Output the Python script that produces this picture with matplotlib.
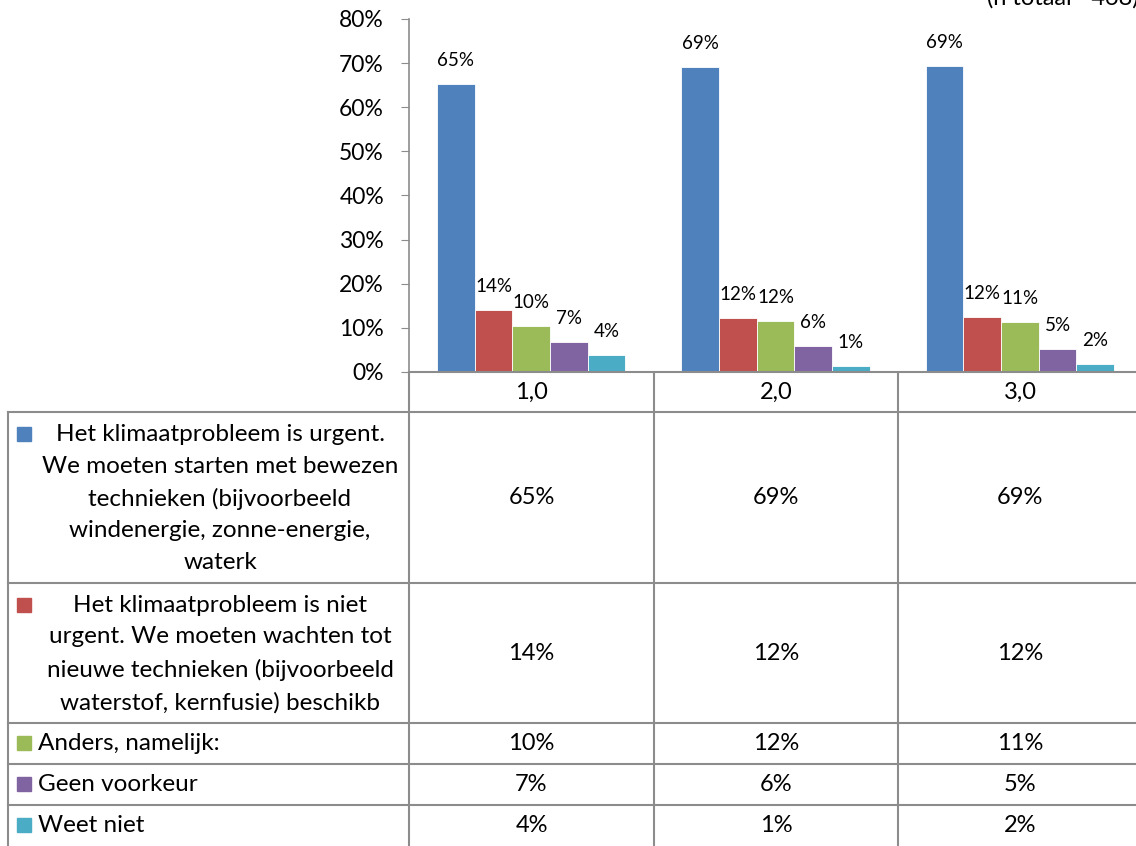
import matplotlib
matplotlib.use("Agg")
import matplotlib.pyplot as plt
import numpy as np
from matplotlib.patches import Rectangle

plt.rcParams['font.family'] = ['Lato', 'DejaVu Sans']

# data (aandeel per groep)
groepen = ['1,0', '2,0', '3,0']
reeksen = [
    'Het klimaatprobleem is urgent.\nWe moeten starten met bewezen\ntechnieken (bijvoorbeeld\nwindenergie, zonne-energie,\nwaterk',
    'Het klimaatprobleem is niet\nurgent. We moeten wachten tot\nnieuwe technieken (bijvoorbeeld\nwaterstof, kernfusie) beschikb',
    'Anders, namelijk:',
    'Geen voorkeur',
    'Weet niet',
]
urgent = [65.2, 69.2, 69.3]
niet_urgent = [14.1, 12.2, 12.4]
anders = [10.4, 11.6, 11.3]
geen_voorkeur = [6.8, 5.9, 5.2]
weet_niet = [3.9, 1.4, 1.8]
waarden = [urgent, niet_urgent, anders, geen_voorkeur, weet_niet]
kleuren = ['#4F81BD', '#C0504D', '#9BBB59', '#8064A2', '#4BACC6']
n_tekst = '(n totaal= 468)'

W, H = 1136, 846
fig = plt.figure(figsize=(W / 100, H / 100), dpi=100)

# staafdiagram
ax = fig.add_axes([409 / W, 1 - 372 / H, (1142 - 409) / W, (372 - 19) / H])
x = np.arange(len(groepen)) + 0.5
bw = 0.154
for i, (vals, kl) in enumerate(zip(waarden, kleuren)):
    pos = x + (i - 2) * bw
    ax.bar(pos, vals, width=bw, color=kl, edgecolor='white', linewidth=0.6)
    for p, v in zip(pos, vals):
        ax.annotate(f'{v:.0f}%', (p, v), xytext=(0, 17), textcoords='offset points',
                    ha='center', va='center', fontsize=13.5)
ax.set_xlim(0, 3)
ax.set_ylim(0, 80)
ax.set_yticks(range(0, 81, 10))
ax.set_yticklabels([f'{t}%' for t in range(0, 81, 10)], fontsize=16.5)
ax.set_xticks([])
ax.tick_params(axis='y', length=6, color='#8c8c8c', pad=12)
for s in ['top', 'right']:
    ax.spines[s].set_visible(False)
ax.spines['left'].set_color('#8c8c8c')
ax.spines['bottom'].set_color('#8c8c8c')
ax.spines['left'].set_linewidth(1.2)
ax.spines['bottom'].set_linewidth(1.5)

# tabel eronder
tb = fig.add_axes([0, 0, 1, 1], zorder=-1)
tb.set_xlim(0, W)
tb.set_ylim(H, 0)
tb.axis('off')
lc = '#8c8c8c'
col_x = [409, 654, 898, 1142]
rij_y = [412, 583, 723, 764, 805, 846]
for cx in col_x:
    tb.plot([cx, cx], [372, H], color=lc, lw=1.5)
tb.plot([8, 8], [412, H], color=lc, lw=1.5)
for ry in rij_y[:-1]:
    tb.plot([8, W], [ry, ry], color=lc, lw=1.5)

midden = [(col_x[j] + col_x[j + 1]) / 2 for j in range(3)]
for m, g in zip(midden, groepen):
    tb.text(m, 392, g, ha='center', va='center', fontsize=17)

for i, (naam, vals, kl) in enumerate(zip(reeksen, waarden, kleuren)):
    top, bot = rij_y[i], rij_y[i + 1]
    yc = (top + bot) / 2
    if i < 2:
        tb.add_patch(Rectangle((17, top + 15), 14, 14, color=kl))
        tb.text(220, yc + 1, naam, ha='center', va='center', fontsize=17.5,
                linespacing=1.62, multialignment='center')
    else:
        tb.add_patch(Rectangle((17, yc - 7.5), 14, 14, color=kl))
        tb.text(38, yc, naam, ha='left', va='center', fontsize=17.5)
    for m, v in zip(midden, vals):
        tb.text(m, yc, f'{v:.0f}%', ha='center', va='center', fontsize=17)

tb.text(987, 5, n_tekst, ha='left', va='baseline', fontsize=17)

fig.savefig('out.png', dpi=100)
